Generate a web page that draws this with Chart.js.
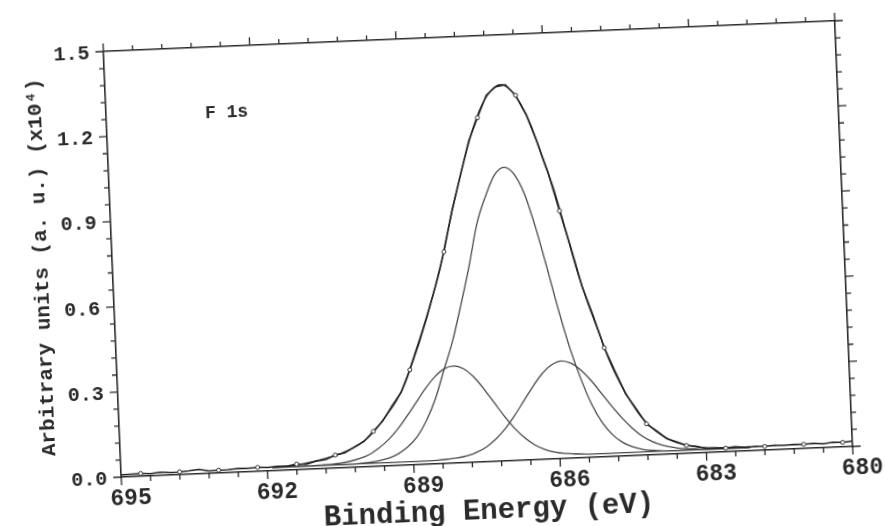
<!DOCTYPE html>
<html><head><meta charset="utf-8">
<script src="https://cdn.jsdelivr.net/npm/chart.js@4.4.1/dist/chart.umd.min.js"></script>
<style>
html,body{margin:0;padding:0;background:#fff;overflow:hidden;width:885px;height:526px;}
#wrap{position:absolute;left:0;top:0;width:885px;height:526px;transform:rotate(-2.4deg);transform-origin:478px 248.5px;}
canvas{display:block;}
</style></head><body>
<div id="wrap"><canvas id="c" width="885" height="526"></canvas></div>
<script>
// ---- data ----
const energy = [695.0,694.8,694.6,694.4,694.2,694.0,693.8,693.6,693.4,693.2,693.0,692.8,692.6,692.4,692.2,692.0,691.8,691.6,691.4,691.2,691.0,690.8,690.6,690.4,690.2,690.0,689.8,689.6,689.4,689.2,689.0,688.8,688.6,688.4,688.2,688.0,687.8,687.6,687.4,687.2,687.0,686.8,686.6,686.4,686.2,686.0,685.8,685.6,685.4,685.2,685.0,684.8,684.6,684.4,684.2,684.0,683.8,683.6,683.4,683.2,683.0,682.8,682.6,682.4,682.2,682.0,681.8,681.6,681.4,681.2,681.0,680.8,680.6,680.4,680.2,680.0];
const counts = [0.008,0.009,0.010,0.008,0.011,0.009,0.010,0.012,0.016,0.009,0.010,0.011,0.013,0.012,0.014,0.012,0.015,0.014,0.020,0.018,0.027,0.032,0.046,0.053,0.072,0.090,0.124,0.158,0.210,0.256,0.335,0.423,0.520,0.628,0.745,0.890,1.010,1.130,1.212,1.290,1.318,1.324,1.285,1.216,1.118,1.008,0.872,0.742,0.602,0.498,0.384,0.300,0.218,0.165,0.110,0.084,0.055,0.042,0.028,0.024,0.015,0.016,0.013,0.017,0.012,0.015,0.013,0.016,0.014,0.016,0.015,0.017,0.014,0.018,0.016,0.019];

const fitEnergy = [691.9,691.7,691.5,691.3,691.1,690.9,690.7,690.5,690.3,690.1,689.9,689.7,689.5,689.3,689.1,688.9,688.7,688.5,688.3,688.1,687.9,687.7,687.5,687.3,687.1,686.9,686.7,686.5,686.3,686.1,685.9,685.7,685.5,685.3,685.1,684.9,684.7,684.5,684.3,684.1,683.9,683.7,683.5,683.3,683.1,682.9,682.7,682.5,682.3,682.1];
const envelope = [0.012,0.013,0.015,0.019,0.025,0.032,0.040,0.050,0.063,0.080,0.105,0.140,0.183,0.228,0.292,0.383,0.475,0.575,0.683,0.820,0.950,1.070,1.175,1.255,1.305,1.325,1.305,1.252,1.172,1.060,0.950,0.810,0.665,0.545,0.440,0.335,0.255,0.190,0.135,0.096,0.068,0.047,0.034,0.025,0.019,0.016,0.014,0.013,0.013,0.013];
const peakMain = [0.012,0.012,0.012,0.012,0.012,0.012,0.012,0.012,0.012,0.013,0.015,0.020,0.028,0.042,0.065,0.100,0.155,0.230,0.330,0.430,0.555,0.690,0.840,0.935,1.008,1.034,1.008,0.935,0.815,0.670,0.520,0.385,0.275,0.185,0.120,0.076,0.048,0.031,0.021,0.016,0.013,0.012,0.012,0.012,0.012,0.012,0.012,0.012,0.012,0.012];
const peakHigh = [0.012,0.012,0.012,0.012,0.012,0.013,0.014,0.017,0.022,0.030,0.043,0.064,0.092,0.128,0.172,0.219,0.266,0.306,0.333,0.342,0.331,0.301,0.257,0.207,0.157,0.113,0.078,0.052,0.035,0.024,0.018,0.015,0.013,0.012,0.012,0.012,0.012,0.012,0.012,0.012,0.012,0.012,0.012,0.012,0.012,0.012,0.012,0.012,0.012,0.012];
const peakLow = [0.012,0.012,0.012,0.012,0.012,0.012,0.012,0.012,0.012,0.012,0.012,0.012,0.012,0.012,0.012,0.012,0.012,0.013,0.015,0.018,0.024,0.035,0.052,0.078,0.113,0.157,0.207,0.257,0.301,0.331,0.344,0.335,0.309,0.271,0.225,0.178,0.135,0.098,0.068,0.047,0.033,0.024,0.018,0.015,0.013,0.012,0.012,0.012,0.012,0.012];

const xTickValues = [695, 692, 689, 686, 683, 680];
const yTickValues = [0.0, 0.3, 0.6, 0.9, 1.2, 1.5];
const xMinorStep = 0.6, yMinorStep = 0.06;
const peakLabel = 'F 1s';
const peakLabelPos = [692.53, 1.266];

// ---- drawing ----
const FONT = '"Liberation Mono", "DejaVu Sans Mono", monospace';
const INK = '#2a2a2a';
const LINE = '#4a4a4a';

const frameTicks = {
  id: 'frameTicks',
  afterDraw(chart) {
    const {ctx, chartArea: a, scales: {x, y}} = chart;
    ctx.save();
    ctx.strokeStyle = INK;
    ctx.lineWidth = 1.3;
    ctx.beginPath();
    const xs = xTickValues[xTickValues.length - 1], xe = xTickValues[0];
    const nx = Math.round((xe - xs) / xMinorStep);
    for (let i = 0; i <= nx; i++) {
      const v = xs + i * xMinorStep;
      const px = x.getPixelForValue(v);
      const len = i % 5 === 0 ? 8 : 5;
      ctx.moveTo(px, a.bottom); ctx.lineTo(px, a.bottom + len);
      ctx.moveTo(px, a.top); ctx.lineTo(px, a.top - len);
    }
    const ys = yTickValues[0], ye = yTickValues[yTickValues.length - 1];
    const ny = Math.round((ye - ys) / yMinorStep);
    for (let i = 0; i <= ny; i++) {
      const v = ys + i * yMinorStep;
      const py = y.getPixelForValue(v);
      const len = i % 5 === 0 ? 8 : 5;
      ctx.moveTo(a.left, py); ctx.lineTo(a.left - len, py);
      ctx.moveTo(a.right, py); ctx.lineTo(a.right + len, py);
    }
    ctx.stroke();
    ctx.restore();
  }
};

const annot = {
  id: 'annot',
  afterDatasetsDraw(chart) {
    const {ctx, scales: {x, y}} = chart;
    ctx.save();
    ctx.font = 'bold 18px ' + FONT;
    ctx.fillStyle = INK;
    ctx.textAlign = 'center';
    ctx.textBaseline = 'middle';
    ctx.fillText(peakLabel, x.getPixelForValue(peakLabelPos[0]), y.getPixelForValue(peakLabelPos[1]));
    ctx.restore();
  }
};

function pts(xs, ys) { return xs.map((v, i) => ({x: v, y: ys[i]})); }
const smooth = {borderColor: LINE, borderWidth: 1.3, pointRadius: 0, cubicInterpolationMode: 'monotone', fill: false, xAxisID: 'x', yAxisID: 'y'};
const border = {display: true, color: INK, width: 1.6};

new Chart(document.getElementById('c'), {
  type: 'line',
  data: {
    datasets: [
      {label: 'Experimental', data: pts(energy, counts), borderColor: '#222', borderWidth: 1.5, tension: 0,
       pointRadius: c => (c.dataIndex % 4 === 2 ? 2 : 0), pointBackgroundColor: '#fff', pointBorderColor: '#333', pointBorderWidth: 1,
       xAxisID: 'x', yAxisID: 'y'},
      Object.assign({label: 'Envelope', data: pts(fitEnergy, envelope)}, smooth, {borderColor: '#333', borderWidth: 1.4}),
      Object.assign({label: 'Main', data: pts(fitEnergy, peakMain)}, smooth),
      Object.assign({label: 'High BE', data: pts(fitEnergy, peakHigh)}, smooth),
      Object.assign({label: 'Low BE', data: pts(fitEnergy, peakLow)}, smooth)
    ]
  },
  options: {
    responsive: false,
    animation: false,
    devicePixelRatio: 1,
    layout: {padding: 0},
    plugins: {legend: {display: false}, tooltip: {enabled: false}},
    scales: {
      x: {
        type: 'linear', position: 'bottom', min: 680, max: 695, reverse: true,
        afterBuildTicks: s => { s.ticks = xTickValues.map(v => ({value: v})); },
        afterFit: s => { s.height = 64; },
        grid: {display: false, drawTicks: false},
        border: border,
        ticks: {autoSkip: false, maxRotation: 0, padding: 8, labelOffset: 9, color: INK,
                font: {family: FONT, size: 23, weight: 'bold'}, callback: v => Number(v).toFixed(0)},
        title: {display: true, text: 'Binding Energy (eV)', color: INK,
                font: {family: FONT, size: 29, weight: 'bold', lineHeight: 1}, padding: {top: 0, bottom: 0}}
      },
      x2: {
        type: 'linear', position: 'top', min: 680, max: 695, reverse: true,
        afterFit: s => { s.height = 36; },
        grid: {display: false, drawTicks: false}, border: border, ticks: {display: false}
      },
      y: {
        type: 'linear', position: 'left', min: 0, max: 1.5,
        afterBuildTicks: s => { s.ticks = yTickValues.map(v => ({value: v})); },
        afterFit: s => { s.width = 112; },
        grid: {display: false, drawTicks: false},
        border: border,
        ticks: {autoSkip: false, padding: 14, labelOffset: 2, color: INK,
                font: {family: FONT, size: 20, weight: 'bold'}, callback: v => Number(v).toFixed(1)},
        title: {display: true, text: 'Arbitrary units (a. u.) (x10\u2074)', color: INK,
                font: {family: FONT, size: 21, weight: 'bold', lineHeight: 1}, padding: {top: 31, bottom: 0}}
      },
      y2: {
        type: 'linear', position: 'right', min: 0, max: 1.5,
        afterFit: s => { s.width = 41; },
        grid: {display: false, drawTicks: false}, border: border, ticks: {display: false}
      }
    }
  },
  plugins: [frameTicks, annot]
});
</script></body></html>
